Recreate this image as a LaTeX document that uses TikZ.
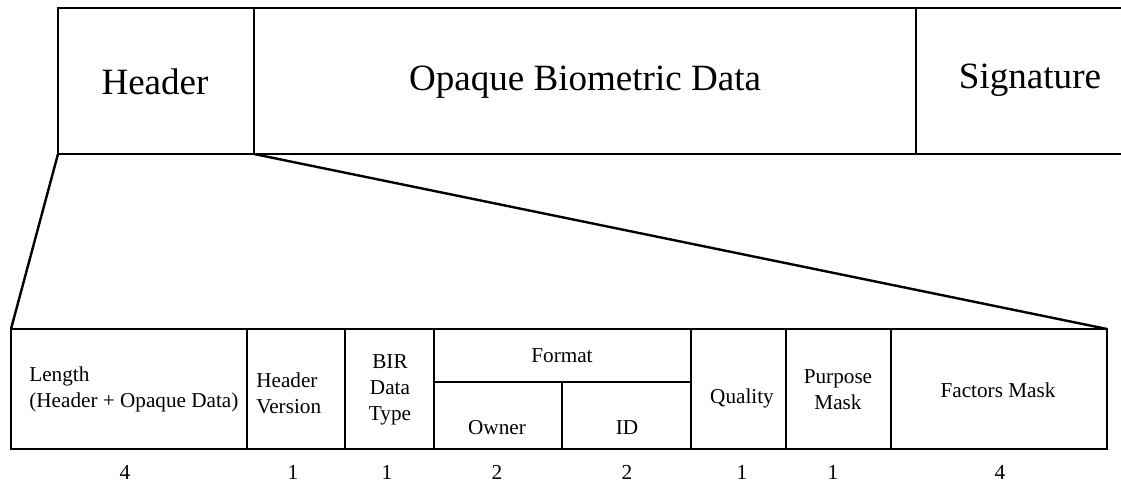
\documentclass[tikz,border=0pt]{standalone}
\usepackage{fontspec}
\setmainfont{Liberation Serif}
\begin{document}
\begin{tikzpicture}[x=0.75pt,y=-0.75pt,line width=2pt,
  bigtxt/.style={font=\fontsize{27.8}{30}\selectfont,inner sep=0pt},
  smalltxt/.style={font=\fontsize{15.9}{19.5}\selectfont,inner sep=0pt,align=center},
  sizetxt/.style={font=\fontsize{16}{19}\selectfont,inner sep=0pt}]
 \useasboundingbox (0,0) rectangle (1121,483);
 % record
 \coordinate (hdrSW) at (58,154);
 \coordinate (hdrSE) at (254,154);
 \draw (1121,8) -- (58,8) -- (hdrSW) -- (1121,154);
 \draw (254,8) -- (hdrSE);
 \draw (916,8) -- (916,154);
 \node[bigtxt] (hdr) at (155,82) {Header};
 \node[bigtxt] (opq) at (585,82) {Opaque Biometric Data};
 \node[bigtxt] (sig) at (1030,80) {Signature};
 %
 % header fields
 \coordinate (fldNW) at (11,329);
 \coordinate (fldNE) at (1107,329);
 \draw (fldNW) rectangle (1107,449);
 \foreach \x in {247,345,434,691,786,891}
   \draw (\x,329) -- (\x,449);
 \draw (434,382) -- (691,382);
 \draw (562,382) -- (562,449);
 %
 \node[smalltxt,anchor=west,align=left] (len) at (28,389) {Length\\(Header + Opaque Data)};
 \node[smalltxt,anchor=west,align=left] (ver) at (255,393) {Header\\Version};
 \node[smalltxt] (typ) at (390,390) {BIR\\Data\\Type};
 \node[smalltxt] (fmt) at (562,356) {Format};
 \node[smalltxt] (own) at (497,428) {Owner};
 \node[smalltxt] (fid) at (627,428) {ID};
 \node[smalltxt] (qlt) at (742,398) {Quality};
 \node[smalltxt] (pur) at (838,390) {Purpose\\Mask};
 \node[smalltxt] (fac) at (998,390) {Factors Mask};
 %
 \draw[line width=1.8pt] (hdrSW) -- (fldNW);
 \draw[line width=1.8pt] (hdrSE) -- (fldNE);
 %
 \foreach \x/\n in {125/4,293/1,387/1,497/2,627/2,742/1,833/1,1000/4}
   \node[sizetxt] at (\x,472) {\n};
\end{tikzpicture}
\end{document}
